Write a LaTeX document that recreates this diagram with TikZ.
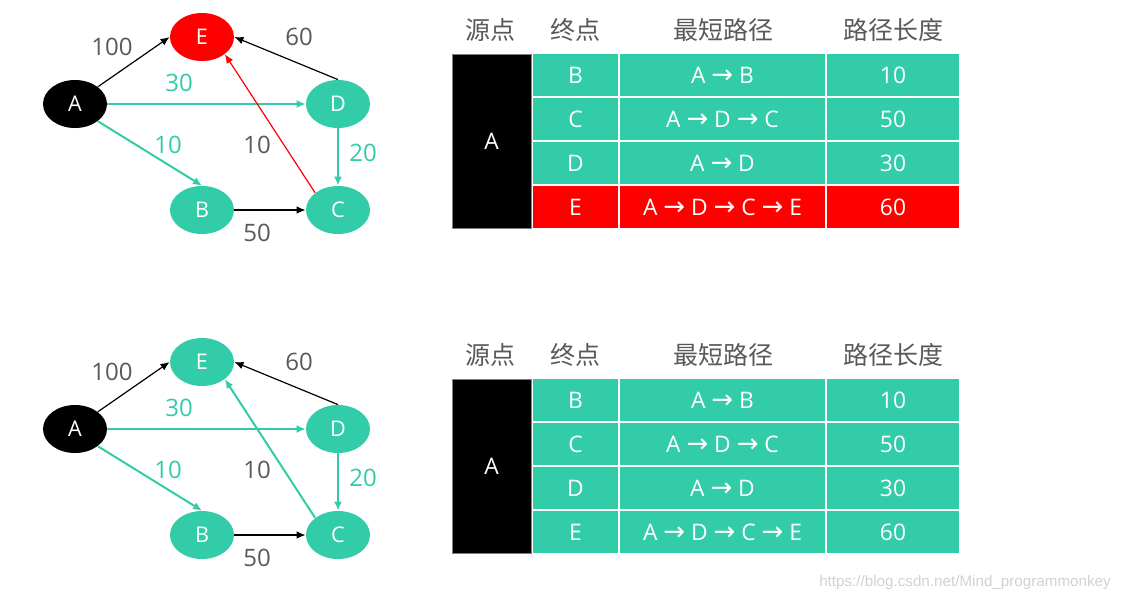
\documentclass[tikz,border=0pt]{standalone}
\usepackage{fontspec}
\setmainfont{Open Sans}
\newfontfamily\cjk{Noto Sans CJK SC}
\newfontfamily\symf{DejaVu Sans}
\newfontfamily\urlf{Liberation Sans}
\usetikzlibrary{shapes.geometric,arrows.meta}
\definecolor{mint}{RGB}{50,204,168}
\definecolor{lbl}{RGB}{89,89,89}
\newcommand{\pto}{{\symf\fontsize{13}{13}\selectfont →}}

\begin{document}
\begin{tikzpicture}[x=0.5pt,y=-0.5pt,
  vtx/.style={ellipse,minimum width=32pt,minimum height=24pt,inner sep=0pt,text=white,font=\fontsize{10.8}{12}\selectfont},
  wt/.style={text=lbl,font=\fontsize{12}{14}\selectfont},
  wg/.style={text=mint,font=\fontsize{12}{14}\selectfont},
  hd/.style={text=lbl,font=\cjk\fontsize{12.5}{14}\selectfont},
  cell/.style={rectangle,inner sep=0pt,minimum height=21pt,text=white,font=\fontsize{11.4}{12}\selectfont},
  blk/.style={draw=black,line width=0.6pt,-{Latex[length=4.5pt,width=3.8pt]}},
  grn/.style={draw=mint,line width=1pt,-{Latex[length=4.5pt,width=4pt]}}]
\useasboundingbox (0,0) rectangle (1126,602);
\foreach \s/\dy/\hc/\lw in {t/0/red/0.6pt,b/325/mint/1pt}{
  \node[vtx,fill=black] (A\s) at (75,104+\dy) {A};
  \node[vtx,fill=\hc] (E\s) at (202,37+\dy) {E};
  \node[vtx,fill=mint] (D\s) at (338,104+\dy) {D};
  \node[vtx,fill=mint] (B\s) at (202,210+\dy) {B};
  \node[vtx,fill=mint] (C\s) at (338,210+\dy) {C};
  \draw[blk] (A\s.north east) -- (E\s.west);
  \draw[grn] (A\s.east) -- (D\s.west);
  \draw[grn] (A\s.south east) -- (B\s.north);
  \draw[grn] (D\s.south) -- (C\s.north);
  \draw[blk] (B\s.east) -- (C\s.west);
  \draw[blk] (D\s.north) -- (E\s.east);
  \draw[draw=\hc,line width=\lw,-{Latex[length=4.5pt,width=3.8pt]}] (C\s.north west) -- (E\s.south east);
  \node[wt] (wae\s) at (112,47+\dy) {100};
  \node[wt] (wde\s) at (299,37+\dy) {60};
  \node[wg] (wad\s) at (179,83+\dy) {30};
  \node[wg] (wab\s) at (168,145+\dy) {10};
  \node[wt] (wce\s) at (257,145+\dy) {10};
  \node[wg] (wdc\s) at (363,153+\dy) {20};
  \node[wt] (wbc\s) at (257,233+\dy) {50};
  \node[hd] (hsrc\s) at (490,30+\dy) {源点};
  \node[hd] (hdst\s) at (575,30+\dy) {终点};
  \node[hd] (hpath\s) at (723,30+\dy) {最短路径};
  \node[hd] (hlen\s) at (893,30+\dy) {路径长度};
  \node[cell,fill=black,draw=gray,minimum width=39.5pt,minimum height=87pt] (src\s) at (491.5,141+\dy) {A};
  \foreach \r/\dst/\via/\len/\fc in {1/B/A \pto{} B/10/mint,2/C/A \pto{} D \pto{} C/50/mint,3/D/A \pto{} D/30/mint,4/E/A \pto{} D \pto{} C \pto{} E/60/\hc}{
    \node[cell,fill=\fc,minimum width=42.5pt] (dst\s\r) at (575.5,31+44*\r+\dy) {\dst};
    \node[cell,fill=\fc,minimum width=102.5pt] (via\s\r) at (722.5,31+44*\r+\dy) {\via};
    \node[cell,fill=\fc,minimum width=66pt] (len\s\r) at (893,31+44*\r+\dy) {\len};
  }
}
\node[text=black!18,font=\urlf\fontsize{7.6}{9}\selectfont] (url) at (965,583) {https://blog.csdn.net/Mind\_programmonkey};
\end{tikzpicture}
\end{document}
